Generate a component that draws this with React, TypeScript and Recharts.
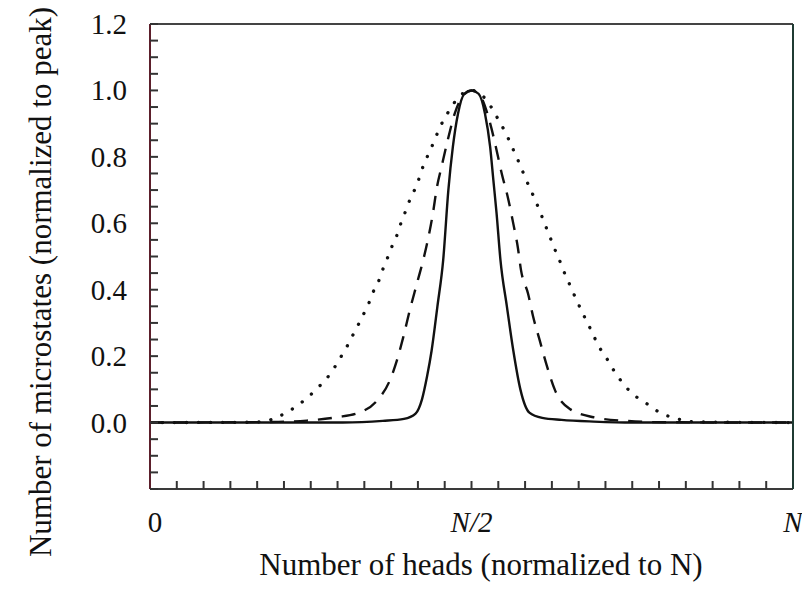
import React from 'react'
import { LineChart, Line, XAxis, YAxis, Label } from 'recharts'

// x is heads / N, y is normalized microstate count
const solidData = [
  { x: 0, y: 0 },
  { x: 0.3, y: 0 },
  { x: 0.362, y: 0.005 },
  { x: 0.395, y: 0.011 },
  { x: 0.413, y: 0.027 },
  { x: 0.423, y: 0.07 },
  { x: 0.431, y: 0.14 },
  { x: 0.438, y: 0.217 },
  { x: 0.447, y: 0.35 },
  { x: 0.456, y: 0.49 },
  { x: 0.464, y: 0.7 },
  { x: 0.471, y: 0.83 },
  { x: 0.479, y: 0.93 },
  { x: 0.489, y: 0.99 },
  { x: 0.5, y: 1.0 },
  { x: 0.511, y: 0.99 },
  { x: 0.521, y: 0.93 },
  { x: 0.529, y: 0.83 },
  { x: 0.534, y: 0.73 },
  { x: 0.539, y: 0.63 },
  { x: 0.545, y: 0.49 },
  { x: 0.555, y: 0.35 },
  { x: 0.565, y: 0.217 },
  { x: 0.576, y: 0.1 },
  { x: 0.59, y: 0.03 },
  { x: 0.61, y: 0.014 },
  { x: 0.64, y: 0.008 },
  { x: 0.69, y: 0.003 },
  { x: 0.75, y: 0 },
  { x: 1, y: 0 },
]

const dashedData = [
  { x: 0, y: 0 },
  { x: 0.2, y: 0.002 },
  { x: 0.244, y: 0.006 },
  { x: 0.29, y: 0.016 },
  { x: 0.327, y: 0.031 },
  { x: 0.353, y: 0.066 },
  { x: 0.373, y: 0.127 },
  { x: 0.384, y: 0.187 },
  { x: 0.394, y: 0.258 },
  { x: 0.404, y: 0.338 },
  { x: 0.415, y: 0.418 },
  { x: 0.426, y: 0.498 },
  { x: 0.433, y: 0.558 },
  { x: 0.44, y: 0.63 },
  { x: 0.446, y: 0.706 },
  { x: 0.454, y: 0.775 },
  { x: 0.463, y: 0.85 },
  { x: 0.474, y: 0.931 },
  { x: 0.487, y: 0.985 },
  { x: 0.5, y: 1.0 },
  { x: 0.513, y: 0.985 },
  { x: 0.529, y: 0.901 },
  { x: 0.539, y: 0.82 },
  { x: 0.547, y: 0.75 },
  { x: 0.557, y: 0.674 },
  { x: 0.565, y: 0.599 },
  { x: 0.572, y: 0.528 },
  { x: 0.577, y: 0.459 },
  { x: 0.588, y: 0.388 },
  { x: 0.596, y: 0.318 },
  { x: 0.606, y: 0.248 },
  { x: 0.617, y: 0.172 },
  { x: 0.63, y: 0.097 },
  { x: 0.653, y: 0.041 },
  { x: 0.69, y: 0.016 },
  { x: 0.74, y: 0.005 },
  { x: 0.8, y: 0.001 },
  { x: 1, y: 0 },
]

const dottedData = [
  { x: 0, y: 0 },
  { x: 0.15, y: 0.001 },
  { x: 0.179, y: 0.004 },
  { x: 0.197, y: 0.016 },
  { x: 0.214, y: 0.032 },
  { x: 0.231, y: 0.054 },
  { x: 0.246, y: 0.077 },
  { x: 0.26, y: 0.103 },
  { x: 0.274, y: 0.131 },
  { x: 0.285, y: 0.16 },
  { x: 0.295, y: 0.192 },
  { x: 0.305, y: 0.224 },
  { x: 0.314, y: 0.258 },
  { x: 0.323, y: 0.291 },
  { x: 0.332, y: 0.326 },
  { x: 0.34, y: 0.358 },
  { x: 0.347, y: 0.393 },
  { x: 0.355, y: 0.423 },
  { x: 0.362, y: 0.461 },
  { x: 0.369, y: 0.494 },
  { x: 0.376, y: 0.529 },
  { x: 0.384, y: 0.564 },
  { x: 0.39, y: 0.599 },
  { x: 0.397, y: 0.634 },
  { x: 0.404, y: 0.67 },
  { x: 0.412, y: 0.703 },
  { x: 0.419, y: 0.738 },
  { x: 0.425, y: 0.773 },
  { x: 0.433, y: 0.808 },
  { x: 0.441, y: 0.843 },
  { x: 0.448, y: 0.876 },
  { x: 0.456, y: 0.909 },
  { x: 0.467, y: 0.944 },
  { x: 0.477, y: 0.973 },
  { x: 0.5, y: 1.0 },
  { x: 0.524, y: 0.969 },
  { x: 0.534, y: 0.939 },
  { x: 0.544, y: 0.904 },
  { x: 0.553, y: 0.873 },
  { x: 0.561, y: 0.839 },
  { x: 0.569, y: 0.804 },
  { x: 0.577, y: 0.769 },
  { x: 0.584, y: 0.735 },
  { x: 0.592, y: 0.701 },
  { x: 0.6, y: 0.666 },
  { x: 0.607, y: 0.633 },
  { x: 0.614, y: 0.598 },
  { x: 0.621, y: 0.564 },
  { x: 0.628, y: 0.529 },
  { x: 0.636, y: 0.493 },
  { x: 0.643, y: 0.458 },
  { x: 0.651, y: 0.423 },
  { x: 0.658, y: 0.392 },
  { x: 0.666, y: 0.358 },
  { x: 0.674, y: 0.325 },
  { x: 0.683, y: 0.29 },
  { x: 0.691, y: 0.257 },
  { x: 0.7, y: 0.223 },
  { x: 0.711, y: 0.191 },
  { x: 0.721, y: 0.158 },
  { x: 0.732, y: 0.127 },
  { x: 0.744, y: 0.099 },
  { x: 0.758, y: 0.075 },
  { x: 0.775, y: 0.054 },
  { x: 0.792, y: 0.031 },
  { x: 0.808, y: 0.018 },
  { x: 0.825, y: 0.009 },
  { x: 0.85, y: 0.002 },
  { x: 1, y: 0 },
]

// x ticks every N/24, labelled at 0, N/2, N
const xTickSteps = [0, 1, 2, 3, 4, 5, 6, 7, 8, 9, 10, 11, 12, 13, 14, 15, 16, 17, 18, 19, 20, 21, 22, 23, 24]
const xTicks = xTickSteps.map((k) => k / 24)
const xTickLabels: Record<number, string> = { 0: '0', 12: 'N/2', 24: 'N' }

// y ticks every 0.05, labelled every 0.2 from 0
const yTicks = [
  -0.2, -0.15, -0.1, -0.05, 0, 0.05, 0.1, 0.15, 0.2, 0.25, 0.3, 0.35, 0.4, 0.45, 0.5,
  0.55, 0.6, 0.65, 0.7, 0.75, 0.8, 0.85, 0.9, 0.95, 1.0, 1.05, 1.1, 1.15, 1.2,
]
const yTickLabels = ['0.0', '0.2', '0.4', '0.6', '0.8', '1.0', '1.2']

const FONT = '"Liberation Serif", "Times New Roman", serif'

const XTick = (props: any) => {
  const { x, y, payload } = props
  const k = Math.round(payload.value * 24)
  const label = xTickLabels[k]
  if (!label) return <g />
  return (
    <text
      x={x + (k === 0 ? 5 : 0)}
      y={y}
      dy={43}
      textAnchor="middle"
      fontFamily={FONT}
      fontSize={29}
      fontStyle={k === 0 ? 'normal' : 'italic'}
      fill="#111"
    >
      {label}
    </text>
  )
}

const YTick = (props: any) => {
  const { x, y, payload } = props
  const idx = Math.round(payload.value * 100)
  if (idx < 0 || idx % 20 !== 0) return <g />
  return (
    <text
      x={x - 23}
      y={y}
      dy={10}
      textAnchor="end"
      fontFamily={FONT}
      fontSize={29}
      fill="#111"
    >
      {yTickLabels[idx / 20]}
    </text>
  )
}

export default function App() {
  return (
    <LineChart width={802} height={585} margin={{ top: 0, right: 0, bottom: 0, left: 0 }}>
      <XAxis
        dataKey="x"
        type="number"
        domain={[0, 1]}
        allowDataOverflow
        ticks={xTicks}
        interval={0}
        height={104}
        tickSize={-8}
        tickMargin={8}
        tick={<XTick />}
        axisLine={{ stroke: '#3a3a3a', strokeWidth: 2 }}
        tickLine={{ stroke: '#333', strokeWidth: 2 }}
      >
        <Label
          content={() => (
            <text x={473} y={567} textAnchor="middle" fontFamily={FONT} fontSize={31} fill="#111">
              Number of heads (normalized to N)
            </text>
          )}
        />
      </XAxis>
      <XAxis
        xAxisId="top"
        orientation="top"
        dataKey="x"
        type="number"
        domain={[0, 1]}
        allowDataOverflow
        ticks={xTicks}
        interval={0}
        height={16}
        tickSize={-8}
        tick={false}
        axisLine={{ stroke: '#444', strokeWidth: 2 }}
        tickLine={{ stroke: '#333', strokeWidth: 2 }}
      />
      <YAxis
        type="number"
        domain={[-0.2, 1.2]}
        allowDataOverflow
        ticks={yTicks}
        interval={0}
        width={142}
        tickSize={-8}
        tickMargin={8}
        tick={<YTick />}
        axisLine={{ stroke: '#5c1f2b', strokeWidth: 2 }}
        tickLine={{ stroke: '#333', strokeWidth: 2 }}
      >
        <Label
          content={() => (
            <text
              x={43}
              y={274}
              transform="rotate(-90 43 274)"
              textAnchor="middle"
              fontFamily={FONT}
              fontSize={31}
              fill="#111"
            >
              Number of microstates (normalized to peak)
            </text>
          )}
        />
      </YAxis>
      <YAxis
        yAxisId="right"
        orientation="right"
        type="number"
        domain={[-0.2, 1.2]}
        allowDataOverflow
        ticks={yTicks}
        interval={0}
        width={17}
        tickSize={-8}
        tick={false}
        axisLine={{ stroke: '#1f3b33', strokeWidth: 2 }}
        tickLine={{ stroke: '#333', strokeWidth: 2 }}
      />
      <Line
        data={dottedData}
        dataKey="y"
        type="monotone"
        stroke="#111"
        strokeWidth={3.3}
        strokeLinecap="round"
        strokeDasharray="0.1 12"
        dot={false}
        isAnimationActive={false}
      />
      <Line
        data={dashedData}
        dataKey="y"
        type="monotone"
        stroke="#111"
        strokeWidth={2.4}
        strokeDasharray="14 10"
        dot={false}
        isAnimationActive={false}
      />
      <Line
        data={solidData}
        dataKey="y"
        type="monotone"
        stroke="#111"
        strokeWidth={2.4}
        dot={false}
        isAnimationActive={false}
      />
    </LineChart>
  )
}
